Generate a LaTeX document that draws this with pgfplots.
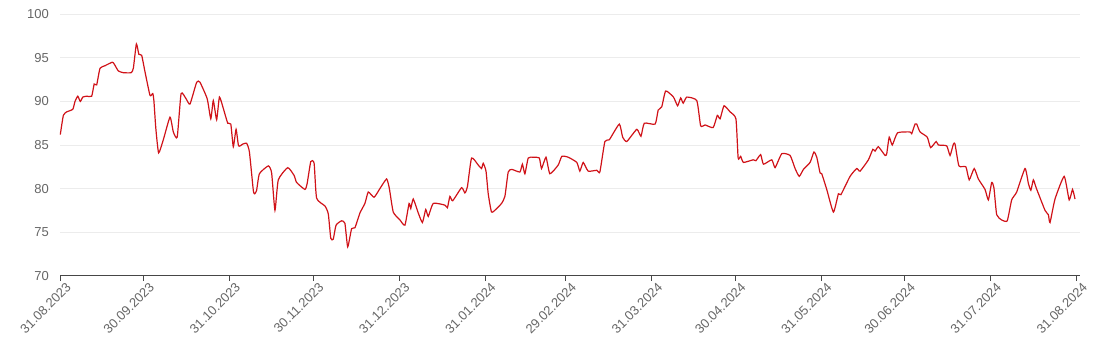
\documentclass[border=0pt]{standalone}
\usepackage{fontspec}
\setmainfont{Liberation Sans}
\usepackage{pgfplots}
\pgfplotsset{compat=1.18}
\definecolor{linered}{RGB}{208,18,24}
\definecolor{tickgray}{RGB}{102,102,102}
\definecolor{gridgray}{RGB}{236,236,236}
\definecolor{axisgray}{RGB}{70,70,70}
\begin{document}
\begin{tikzpicture}
\useasboundingbox (0,0) rectangle (1100pt,353pt);
\begin{axis}[
  at={(60.3pt,77.3pt)}, anchor=south west,
  scale only axis,
  width=1019.7pt, height=261.4pt,
  xmin=0, xmax=367.2,
  ymin=70, ymax=100,
  ytick={70,75,80,85,90,95,100},
  xtick={0,30,61,91,122,153,182,213,243,274,304,335,366},
  xticklabels={31.08.2023,30.09.2023,31.10.2023,30.11.2023,31.12.2023,31.01.2024,29.02.2024,31.03.2024,30.04.2024,31.05.2024,30.06.2024,31.07.2024,31.08.2024},
  axis lines*=left,
  y axis line style={draw=none},
  x axis line style={draw=axisgray, line width=1.2pt},
  ymajorgrids,
  grid style={gridgray, line width=0.8pt},
  ytick style={draw=none},
  xtick style={draw=axisgray, line width=1pt},
  tick align=outside,
  major tick length=5pt,
  /pgf/number format/assume math mode=true,
  yticklabel style={font=\fontsize{13}{15}\selectfont, text=tickgray, xshift=-3pt},
  xticklabel style={font=\fontsize{13}{15}\selectfont, text=tickgray, rotate=45, anchor=north east, inner sep=1pt, xshift=4pt, yshift=-3pt},
  clip=false,
]
\addplot[linered, line width=1.2pt, smooth, tension=0.3] coordinates {
(0,86.2)(1.1,88.4)(2.3,88.8)(4.5,89.1)(5.3,90.0)(6.3,90.6)(7.2,90.0)(8.1,90.5)(9.5,90.6)(11.3,90.6)
(12.2,92.0)(13.1,91.9)(14.3,93.8)(16.1,94.1)(18.7,94.5)(19.4,94.3)(20.9,93.5)(22.7,93.3)(25.5,93.3)(26.3,93.8)
(27.4,96.6)(28.3,95.4)(29.3,95.3)(30.5,93.4)(32.3,90.7)(33.3,90.9)(33.7,90.1)(34.4,86.9)(35.4,84.1)(37.1,85.6)
(39.5,88.2)(40.7,86.5)(42.1,85.9)(43.5,90.9)(45.3,90.3)(46.7,89.7)(49.1,92.2)(50.3,92.2)(52.9,90.3)(54.2,88.0)
(55.1,90.1)(56.3,87.9)(57.3,90.5)(58.7,89.2)(60.3,87.5)(61.4,87.4)(62.3,84.8)(63.3,86.8)(64.2,84.9)(65.7,85.1)
(67.1,85.2)(68.1,84.2)(69.5,79.8)(70.0,79.4)(70.7,79.8)(71.7,81.7)(74.9,82.6)(76.1,81.8)(77.3,77.5)(78.5,81.0)
(81.9,82.4)(84.2,81.5)(85.1,80.7)(88.1,79.9)(88.9,80.6)(90.2,83.1)(91.4,82.9)(92.3,78.9)(95.3,78.0)(96.5,77.1)
(97.4,74.3)(98.3,74.2)(99.3,75.8)(101.3,76.3)(102.5,76.0)(103.5,73.3)(104.9,75.4)(106.1,75.5)(107.9,77.2)(109.7,78.3)
(110.9,79.6)(113.0,79.0)(115.1,80.0)(117.5,81.1)(118.5,80.0)(119.9,77.3)(122.3,76.4)(124.1,75.8)(125.6,78.3)(126.2,77.7)
(127.1,78.8)(128.9,77.2)(130.4,76.1)(131.6,77.6)(132.5,76.8)(134.3,78.3)(138.5,78.1)(139.4,77.8)(140.3,79.1)(141.3,78.6)
(144.5,80.1)(145.7,79.5)(146.6,80.2)(148.1,83.5)(150.5,82.7)(151.7,82.3)(152.3,82.9)(153.3,82.0)(154.1,79.4)(155.3,77.3)
(157.1,77.7)(158.9,78.3)(160.1,79.1)(161.3,81.9)(162.6,82.2)(165.5,81.9)(166.4,82.8)(167.3,81.7)(168.5,83.5)(170.3,83.6)
(172.5,83.5)(173.3,82.3)(174.9,83.6)(176.3,81.7)(179.3,82.7)(180.6,83.7)(182.9,83.6)(186.0,83.0)(187.1,82.0)(188.3,83.0)
(190.1,82.0)(193.2,82.1)(194.3,81.9)(196.1,85.4)(197.7,85.6)(201.3,87.4)(202.5,85.9)(204.0,85.4)(207.6,86.8)(209.1,86.0)
(210.3,87.5)(214.2,87.4)(215.3,89.0)(216.6,89.4)(218.0,91.2)(220.8,90.5)(222.3,89.5)(223.4,90.4)(224.3,89.8)(225.6,90.5)
(229.2,90.1)(230.6,87.2)(232.2,87.3)(235.1,87.0)(236.6,88.4)(237.6,88.0)(239.0,89.5)(241.2,88.8)(243.3,88.0)(244.1,83.5)
(245.0,83.7)(246.0,83.0)(249.5,83.3)(250.5,83.2)(252.2,83.9)(253.2,82.8)(256.2,83.3)(257.4,82.4)(259.8,84.0)(262.8,83.8)
(264.6,82.3)(266.1,81.4)(267.6,82.2)(270.0,83.0)(271.4,84.2)(272.4,83.6)(273.6,81.8)(274.2,81.7)(276.0,79.9)(278.4,77.3)
(280.2,79.4)(281.1,79.3)(284.4,81.4)(286.8,82.3)(288.0,82.0)(291.0,83.3)(292.6,84.5)(293.4,84.3)(294.6,84.8)(297.0,83.8)
(297.6,84.0)(298.5,85.9)(299.6,85.0)(301.5,86.4)(306.0,86.5)(306.6,86.3)(307.8,87.4)(308.4,87.4)(309.6,86.5)(312.2,85.9)
(313.4,84.7)(315.4,85.4)(316.2,85.0)(319.2,84.9)(320.4,83.8)(321.6,85.1)(322.2,85.1)(323.6,82.6)(326.1,82.5)(327.3,81.0)
(329.1,82.3)(330.6,81.1)(333.0,79.9)(334.2,78.7)(335.4,80.7)(336.2,80.1)(337.2,77.0)(339.0,76.4)(341.0,76.3)(342.6,78.7)
(344.4,79.6)(347.4,82.3)(348.6,80.6)(349.5,79.8)(350.4,81.0)(351.4,80.1)(354.6,77.5)(355.8,77.0)(356.4,76.1)(358.2,78.8)
(361.5,81.4)(363.3,78.7)(364.5,79.9)(365.4,78.8)
};
\end{axis}
\end{tikzpicture}
\end{document}
